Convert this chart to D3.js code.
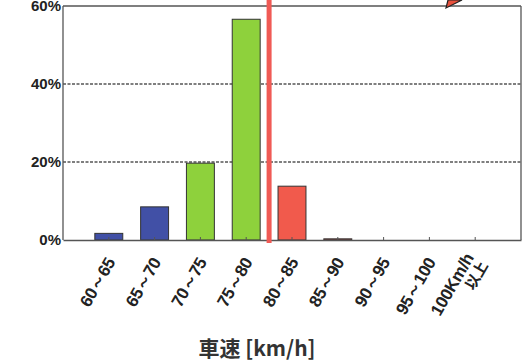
<!DOCTYPE html>
<html>
<head>
<meta charset="utf-8">
<script src="https://cdn.jsdelivr.net/npm/d3@7"></script>
<style>
  html, body { margin: 0; padding: 0; background: #fff; }
  svg { display: block; }
</style>
</head>
<body>
<svg id="chart" width="530" height="362"></svg>
<script>
// Speed bands and share of vehicles in each band
const categories = ["60～65", "65～70", "70～75", "75～80", "80～85", "85～90", "90～95", "95～100", "100Km/h\n以上"];
const shares = [1.7, 8.5, 19.7, 56.6, 13.8, 0.3, 0, 0, 0];
const barGroups = ["low", "low", "mid", "mid", "high", "high", "high", "high", "high"];
const yTicks = [0, 20, 40, 60];
const speedLimitAfter = "75～80"; // red marker sits between this band and the next

const colors = { low: "#4150a6", mid: "#8ed13c", high: "#f15a4c" };

const svg = d3.select("#chart");
const plotLeft = 63, plotRight = 521, plotTop = 6, plotBottom = 240;

const x = d3.scaleBand()
  .domain(categories)
  .range([plotLeft, plotRight])
  .paddingInner(0.39)
  .paddingOuter(0.695);

const y = d3.scaleLinear().domain([0, 60]).range([plotBottom, plotTop]);

// grid lines
svg.append("g")
  .selectAll("line")
  .data(yTicks.filter(d => d > 0))
  .join("line")
  .attr("x1", plotLeft).attr("x2", plotRight)
  .attr("y1", d => y(d)).attr("y2", d => y(d))
  .attr("stroke", "#555")
  .attr("stroke-width", 1.3)
  .attr("stroke-dasharray", d => d === 60 ? null : "3,1.5");

// frame: left axis and right edge
svg.append("line").attr("x1", plotLeft).attr("x2", plotLeft).attr("y1", plotTop).attr("y2", plotBottom)
  .attr("stroke", "#555").attr("stroke-width", 1.3);
svg.append("line").attr("x1", plotRight).attr("x2", plotRight).attr("y1", plotTop).attr("y2", plotBottom)
  .attr("stroke", "#555").attr("stroke-width", 1.3);

// bars
svg.append("g")
  .selectAll("rect")
  .data(categories.map((c, i) => ({ c, v: shares[i], g: barGroups[i] })))
  .join("rect")
  .attr("x", d => x(d.c))
  .attr("width", x.bandwidth())
  .attr("y", d => y(d.v))
  .attr("height", d => plotBottom - y(d.v))
  .attr("fill", d => colors[d.g])
  .attr("stroke", d => d.v > 0 ? "#333" : "none")
  .attr("stroke-width", 1);

// bottom axis
const xAxis = d3.axisBottom(x).tickSize(3).tickSizeOuter(0).tickFormat("");
const gx = svg.append("g").attr("transform", `translate(0,${plotBottom})`).call(xAxis);
gx.select(".domain").attr("stroke", "#555").attr("stroke-width", 1.3);
gx.selectAll(".tick line").attr("stroke", "#555").attr("y1", -3).attr("y2", 0);

// rotated category labels
const labelG = svg.append("g");
categories.forEach(c => {
  const lines = c.split("\n");
  const cx = x(c) + x.bandwidth() / 2;
  const t = labelG.append("text")
    .attr("transform", `translate(${cx + 7},${plotBottom + 22}) rotate(-60)`)
    .attr("text-anchor", "end")
    .attr("font-family", "'Liberation Sans', Arial, sans-serif")
    .attr("font-weight", "bold")
    .attr("font-size", 17)
    .attr("letter-spacing", -0.3)
    .attr("fill", "#222");
  lines.forEach((ln, i) => {
    t.append("tspan")
      .attr("x", 0)
      .attr("dy", i === 0 ? (lines.length > 1 ? -9 : 0) : 16)
      .attr("font-family", i > 0 ? "'Noto Sans CJK JP', sans-serif" : null)
      .attr("font-size", i > 0 ? 15 : null)
      .text(ln);
  });
});

// y tick labels
svg.append("g")
  .selectAll("text")
  .data(yTicks)
  .join("text")
  .attr("x", plotLeft - 2)
  .attr("y", d => y(d))
  .attr("dy", "0.35em")
  .attr("text-anchor", "end")
  .attr("font-family", "'Liberation Sans Narrow', 'Liberation Sans', Arial, sans-serif")
  .attr("font-weight", "bold")
  .attr("font-size", 15)
  .attr("fill", "#222")
  .text(d => d + "%");

// speed-limit marker
const idx = categories.indexOf(speedLimitAfter);
const markerX = (x(categories[idx]) + x.bandwidth() + x(categories[idx + 1])) / 2;
svg.append("line")
  .attr("x1", markerX).attr("x2", markerX)
  .attr("y1", 0).attr("y2", plotBottom + 3)
  .attr("stroke", "#f05a55")
  .attr("stroke-width", 5);

// annotation arrow tip at the top edge
svg.append("path")
  .attr("d", "M446,8 L448,0 L462,0 L456,3 Z")
  .attr("fill", "#e8503c")
  .attr("stroke", "#222")
  .attr("stroke-width", 1.2);

// axis title
svg.append("text")
  .attr("x", 257)
  .attr("y", 356)
  .attr("text-anchor", "middle")
  .attr("font-family", "'Noto Sans CJK JP', sans-serif")
  .attr("font-weight", "bold")
  .attr("font-size", 21)
  .attr("fill", "#333")
  .text("車速 [km/h]");
</script>
</body>
</html>
